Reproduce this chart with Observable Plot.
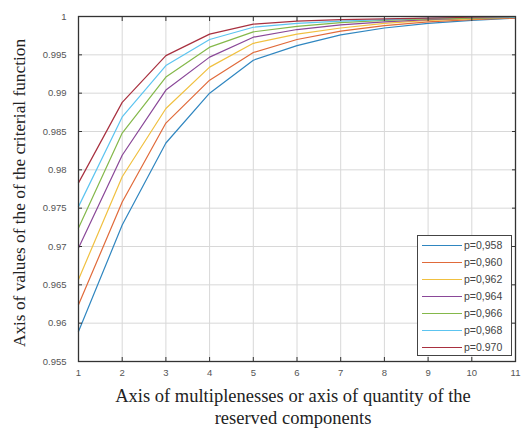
<!DOCTYPE html>
<html>
<head>
<meta charset="utf-8">
<script src="https://cdn.jsdelivr.net/npm/d3@7"></script>
<script src="https://cdn.jsdelivr.net/npm/@observablehq/plot@0.6"></script>
<style>
  body { margin: 0; background: #fff; }
  #wrap { position: relative; width: 523px; height: 434px; }
  #legend { position: absolute; left: 417px; top: 235px; width: 95px; height: 121px;
    border: 1px solid #444; background: #fff; box-sizing: border-box;
    font-family: "Liberation Sans", Arial, sans-serif; font-size: 10.5px; color: #444; padding-top: 1px; }
  .row { position: relative; height: 17px; line-height: 17px; }
  .sw { position: absolute; left: 4px; top: 8px; width: 40px; height: 1px; }
  .lb { position: absolute; left: 46px; top: 0; }
</style>
</head>
<body>
<div id="wrap"></div>
<script>
const n = [1, 2, 3, 4, 5, 6, 7, 8, 9, 10, 11];
const seriesNames = ["p=0,958", "p=0,960", "p=0,962", "p=0,964", "p=0,966", "p=0,968", "p=0.970"];
const p958 = [0.9589, 0.9728, 0.9835, 0.9900, 0.9943, 0.9962, 0.9976, 0.9985, 0.9991, 0.9995, 0.9998];
const p960 = [0.9624, 0.9758, 0.9861, 0.9917, 0.9953, 0.9970, 0.9981, 0.9988, 0.9993, 0.9996, 0.9998];
const p962 = [0.9657, 0.9791, 0.9880, 0.9934, 0.9965, 0.9977, 0.9985, 0.9991, 0.9995, 0.9997, 0.9999];
const p964 = [0.9698, 0.9819, 0.9904, 0.9947, 0.9973, 0.9983, 0.9989, 0.9993, 0.9996, 0.9998, 0.9999];
const p966 = [0.9724, 0.9848, 0.9921, 0.9960, 0.9980, 0.9987, 0.9992, 0.9995, 0.9997, 0.9998, 0.9999];
const p968 = [0.9752, 0.9869, 0.9936, 0.9970, 0.9986, 0.9991, 0.9994, 0.9996, 0.9998, 0.9999, 0.9999];
const p970 = [0.9783, 0.9888, 0.9949, 0.9977, 0.9990, 0.9994, 0.9996, 0.9997, 0.9998, 0.9999, 1.0000];
const seriesValues = [p958, p960, p962, p964, p966, p968, p970];
const colors = ["#2f86c0", "#e06a3a", "#f0c040", "#8a4898", "#84b84a", "#5cc4f0", "#a8303f"];
const xTicks = [1, 2, 3, 4, 5, 6, 7, 8, 9, 10, 11];
const yTicks = [1, 0.995, 0.99, 0.985, 0.98, 0.975, 0.97, 0.965, 0.96, 0.955];
const yTickLabels = ["1", "0.995", "0.99", "0.985", "0.98", "0.975", "0.97", "0.965", "0.96", "0.955"];
const xTitle = "Axis of multiplenesses or axis of quantity of the\nreserved components";
const yTitle = "Axis of values of the of the criterial function";

const data = [];
seriesNames.forEach((s, i) => n.forEach((x, j) => data.push({series: s, n: x, v: seriesValues[i][j]})));

const tickFont = {fontSize: 9.5, fontFamily: "Liberation Sans, Arial, sans-serif"};
const serif = "Liberation Serif, Times New Roman, serif";

const chart = Plot.plot({
  width: 523,
  height: 434,
  marginLeft: 78,
  marginRight: 8,
  marginTop: 16,
  marginBottom: 73,
  style: {background: "#fff", color: "#555"},
  x: {domain: [1, 11]},
  y: {domain: [0.955, 1]},
  color: {domain: seriesNames, range: colors},
  marks: [
    Plot.gridX(xTicks, {stroke: "#d8d8d8", strokeOpacity: 1}),
    Plot.gridY(yTicks, {stroke: "#d8d8d8", strokeOpacity: 1}),
    Plot.line(data, {x: "n", y: "v", z: "series", stroke: "series", strokeWidth: 1.2}),
    Plot.axisX({anchor: "bottom", ticks: xTicks, tickSize: -4, tickPadding: 12, label: null, stroke: "#333", ...tickFont}),
    Plot.axisX({anchor: "top", ticks: xTicks, tickSize: -4, tickFormat: () => "", label: null, stroke: "#333"}),
    Plot.axisY({anchor: "left", ticks: yTicks, tickSize: -4, tickPadding: 16, label: null, stroke: "#333",
      tickFormat: d => yTickLabels[yTicks.findIndex(t => Math.abs(t - d) < 1e-9)], ...tickFont}),
    Plot.axisY({anchor: "right", ticks: yTicks, tickSize: -4, tickFormat: () => "", label: null, stroke: "#333"}),
    Plot.frame({stroke: "#333", strokeWidth: 1.3}),
    Plot.text([yTitle], {frameAnchor: "left", rotate: -90, dx: -59, dy: 4, textAnchor: "middle", lineAnchor: "middle",
      fontSize: 17.3, fontFamily: serif, fill: "#222"}),
    Plot.text([xTitle], {frameAnchor: "bottom", dy: 24, lineAnchor: "top", lineHeight: 1.22, textAnchor: "middle",
      fontSize: 18.5, fontFamily: serif, fill: "#222", dx: -4})
  ]
});

const wrap = document.getElementById("wrap");
wrap.appendChild(chart);
const legend = document.createElement("div");
legend.id = "legend";
seriesNames.forEach((s, i) => {
  const row = document.createElement("div");
  row.className = "row";
  const sw = document.createElement("div");
  sw.className = "sw";
  sw.style.background = colors[i];
  const t = document.createElement("span");
  t.className = "lb";
  t.textContent = s;
  row.appendChild(sw);
  row.appendChild(t);
  legend.appendChild(row);
});
wrap.appendChild(legend);
</script>
</body>
</html>
